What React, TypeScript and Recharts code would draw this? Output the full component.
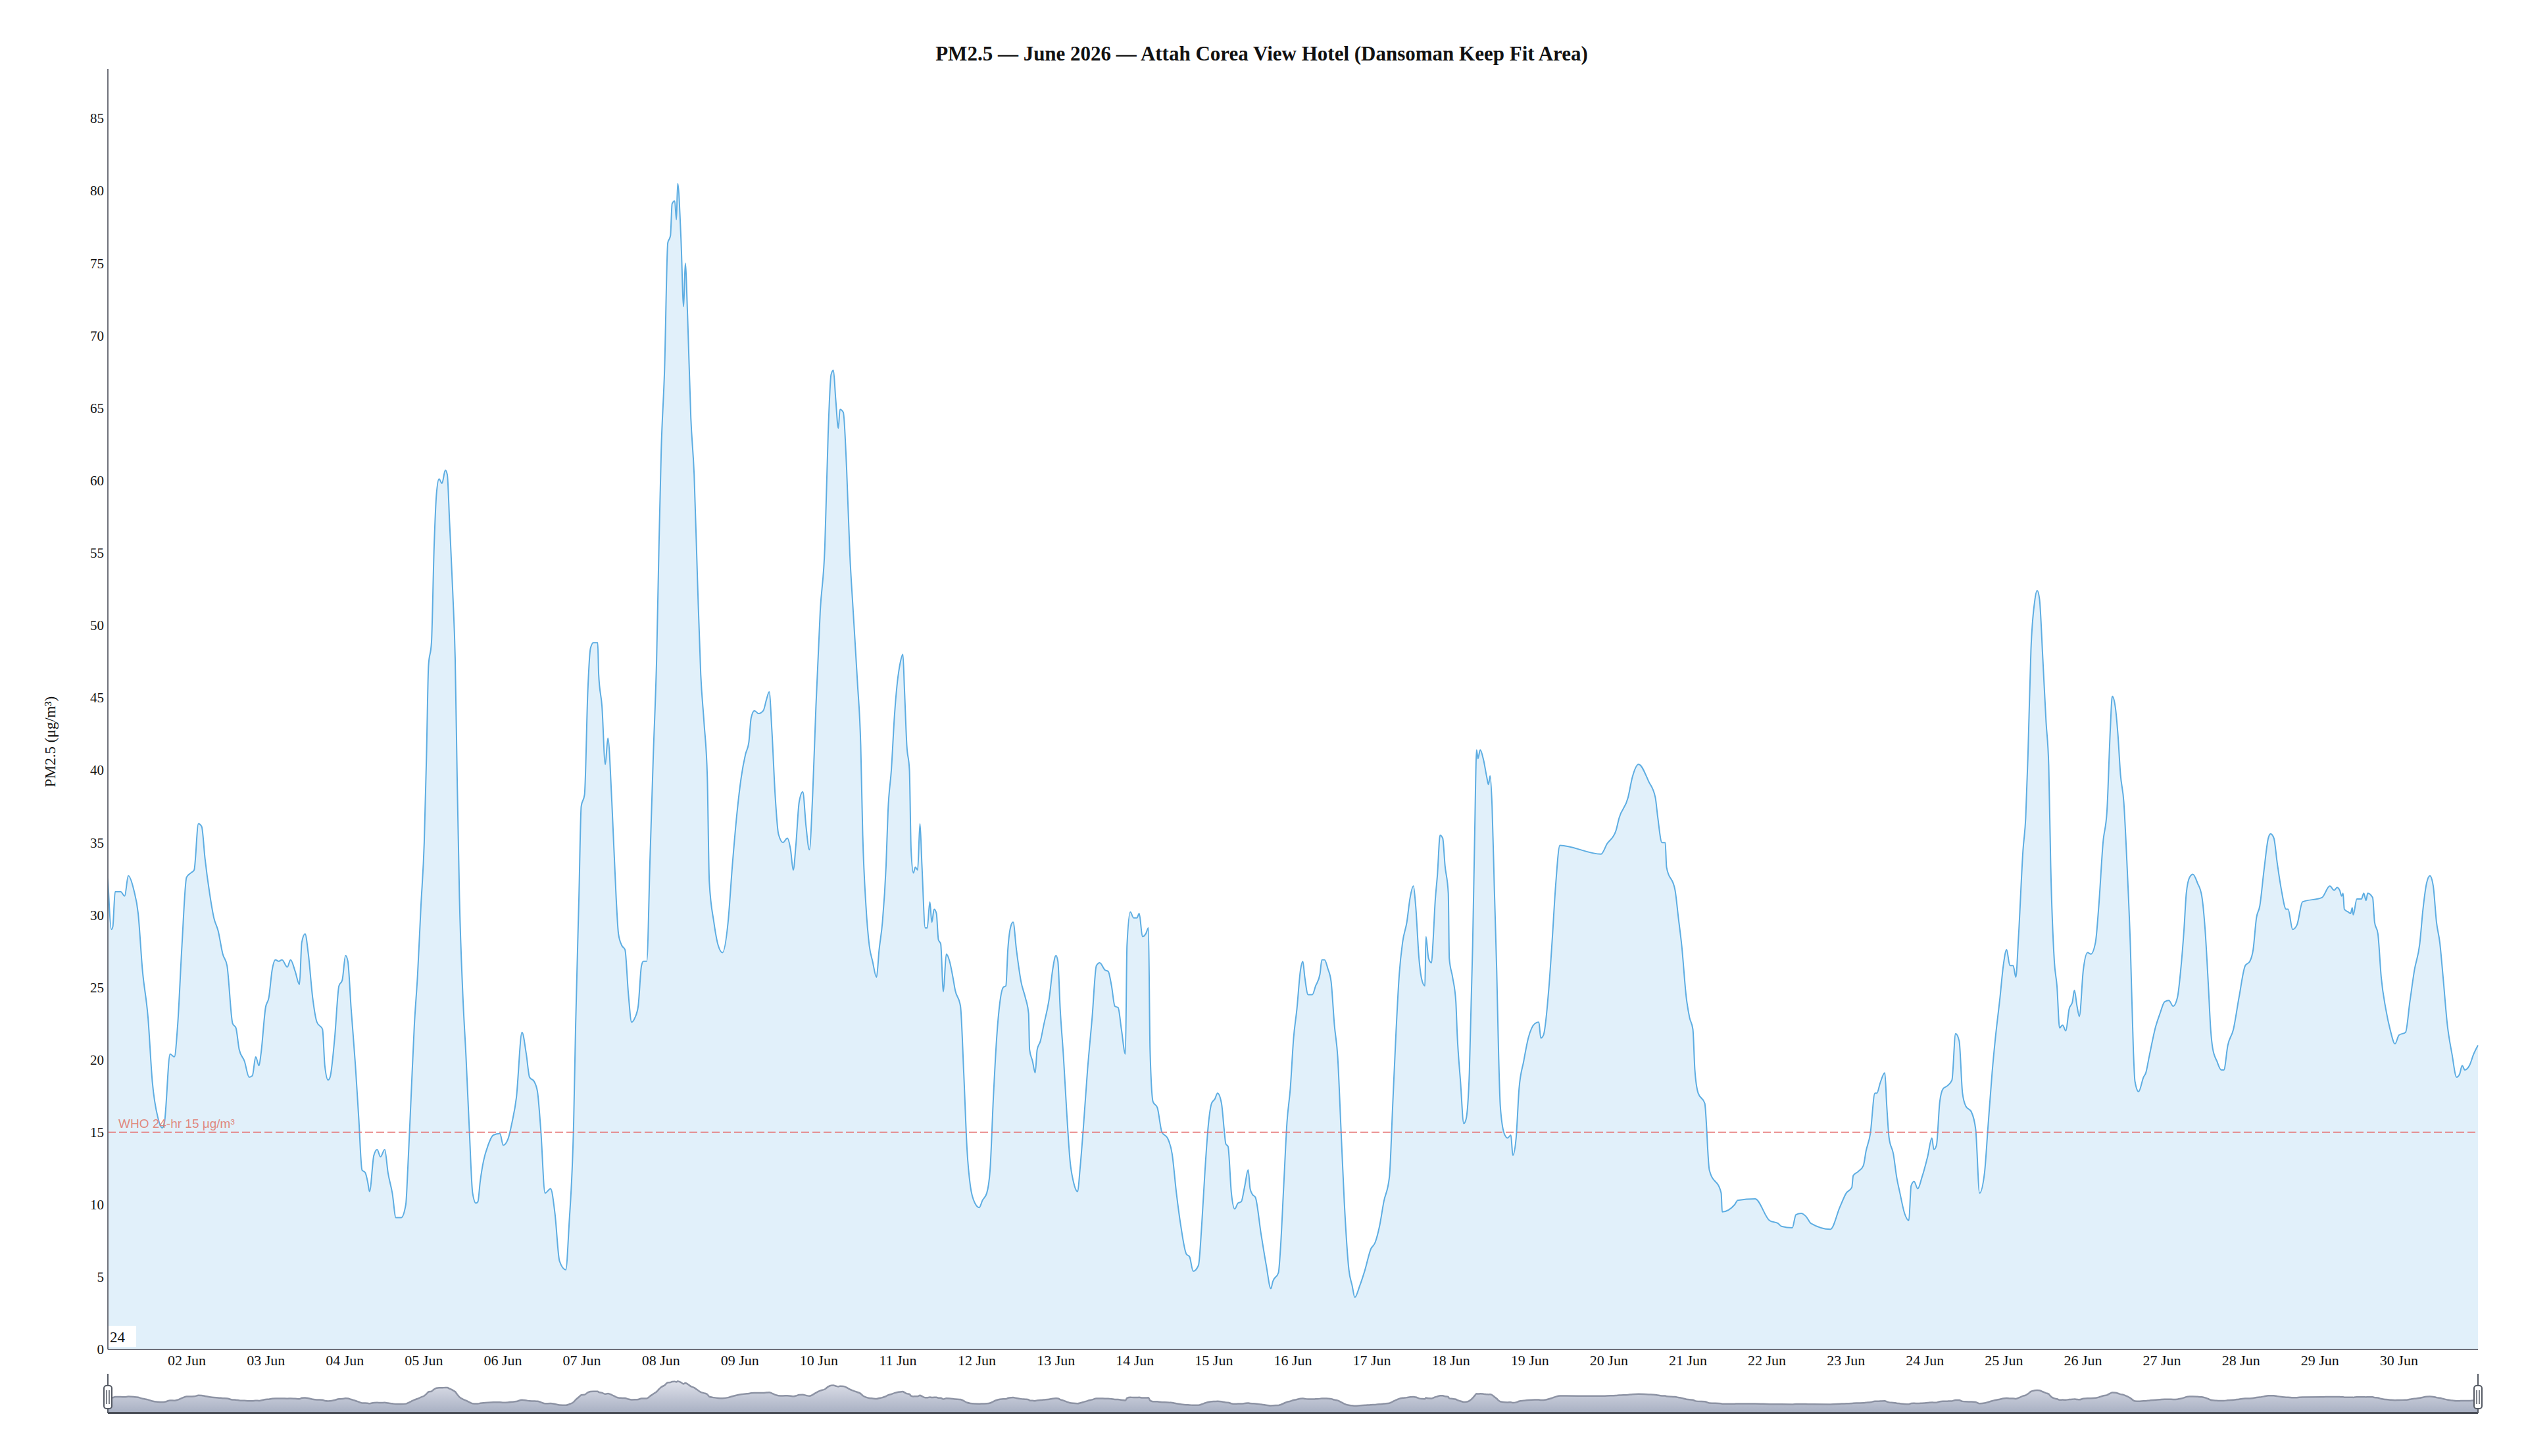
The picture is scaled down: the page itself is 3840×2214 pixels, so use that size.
import React from "react";
import { AreaChart, Area, XAxis, YAxis, ReferenceLine, Label } from "recharts";

// Hours since 01 Jun 2026 00:00
const HOURS = [
  0, 1.1, 1.5, 2.2, 3.9, 5.1, 6.2, 7.9, 9.2, 10.5, 12.2, 13.5, 15.2, 16.5, 17.2, 18.9, 20.2, 21.2, 22.5, 23.9,
  25.2, 26.2, 27.5, 28.5, 29.5, 30.9, 32.2, 33.5, 34.9, 36.2, 37.9, 38.9, 39.9, 41.5, 42.9, 43.9, 44.9, 45.9, 46.5, 47.9,
  48.9, 49.9, 50.9, 51.9, 52.9, 54.5, 55.5, 56.9, 58.2, 58.9, 59.9, 60.9, 62.2, 63.5, 65.2, 65.9, 66.9, 67.5, 68.9, 70.2,
  71.2, 72.2, 72.9, 73.9, 75.2, 76.2, 77.2, 78.2, 78.9, 79.5, 80.8, 81.8, 82.8, 84.1, 85.1, 86.4, 87.5, 89.1, 90.5, 91.1,
  92.1, 93.1, 94.1, 95.1, 96.1, 96.8, 97.4, 98.3, 99.1, 99.8, 100.6, 101.5, 102.5, 103.1, 103.8, 104.8, 105.5, 106.1, 106.8, 107.8,
  108.8, 109.8, 110.8, 111.8, 112.4, 113.1, 114.1, 115.5, 117.1, 119.1, 120.1, 121.5, 122.8, 124.1, 125.8, 127.1, 128.1, 129.5, 130.5, 131.5,
  132.8, 134.5, 135.8, 137.2, 139.1, 140.1, 141.5, 142.1, 143.1, 143.8, 144.8, 145.8, 146.6, 147.5, 148.8, 149.1, 150.1, 151.1, 151.9, 153.1,
  154.4, 155.1, 156.1, 157.1, 158.1, 159.1, 160.1, 161.1, 162.1, 162.7, 163.7, 164.7, 165.7, 166.7, 167.4, 168.1, 169.1, 170.1, 170.9, 171.4,
  172.2, 172.7, 173.1, 174.1, 174.9, 175.4, 176.1, 177.1, 178.1, 179.1, 180.1, 181.1, 182.1, 182.7, 184.1, 185.4, 186.7, 188.4, 189.7, 191.1,
  192.4, 193.7, 194.7, 195.4, 196.4, 197.7, 199.1, 200.1, 200.9, 201.7, 202.7, 203.7, 205.1, 206.4, 207.4, 208.2, 209.0, 210.0, 211.1, 212.1,
  213.1, 214.1, 215.1, 216.4, 217.8, 218.8, 219.7, 220.4, 221.1, 221.9, 222.4, 223.4, 224.4, 225.4, 226.4, 227.7, 228.7, 229.3, 230.3, 231.3,
  232.3, 233.5, 234.3, 235.3, 236.4, 237.0, 238.0, 239.0, 239.7, 240.7, 241.5, 242.0, 242.7, 243.5, 244.0, 244.7, 245.3, 246.0, 246.7, 247.3,
  248.3, 248.9, 249.7, 250.3, 251.0, 251.7, 252.3, 253.0, 253.8, 254.7, 255.7, 256.7, 257.4, 259.0, 260.0, 261.0, 262.0, 263.4, 264.7, 265.7,
  267.0, 268.0, 269.0, 270.0, 271.0, 272.0, 272.8, 273.4, 274.4, 275.0, 276.0, 277.4, 278.7, 279.7, 280.0, 280.9, 281.7, 282.3, 283.3, 284.3,
  286.0, 287.0, 288.0, 288.6, 289.3, 290.3, 291.3, 292.3, 293.3, 294.6, 295.3, 296.3, 297.6, 299.0, 300.3, 301.3, 302.9, 303.9, 304.9, 305.9,
  306.9, 307.9, 309.1, 309.6, 310.6, 311.6, 312.6, 313.3, 314.3, 315.3, 316.1, 316.6, 317.5, 318.8, 320.2, 321.9, 323.3, 324.6, 325.9, 327.6,
  328.6, 329.7, 331.3, 332.3, 333.3, 334.3, 335.3, 336.3, 337.1, 338.3, 339.1, 339.6, 340.3, 341.3, 342.3, 343.3, 344.3, 345.3, 346.4, 347.0,
  347.7, 348.6, 350.3, 351.9, 353.3, 353.9, 355.6, 356.2, 357.2, 358.2, 359.2, 360.2, 361.2, 362.3, 363.0, 363.6, 364.6, 365.9, 366.9, 368.2,
  368.8, 369.6, 370.6, 371.6, 372.6, 373.6, 374.6, 375.6, 377.0, 378.0, 378.8, 380.3, 381.9, 383.6, 385.0, 386.3, 387.6, 389.3, 390.3, 391.3,
  392.3, 393.3, 394.6, 395.6, 396.6, 397.3, 398.3, 399.3, 400.1, 400.4, 401.2, 402.1, 402.5, 403.2, 403.9, 404.7, 405.5, 406.2, 407.2, 407.5,
  408.5, 409.5, 409.9, 410.9, 411.9, 412.6, 413.6, 414.6, 415.2, 415.8, 416.2, 416.9, 417.9, 418.9, 419.4, 419.9, 420.5, 421.2, 421.9, 422.5,
  423.0, 424.2, 425.2, 426.2, 426.8, 427.8, 428.7, 430.1, 431.5, 433.5, 434.7, 435.3, 436.1, 437.8, 438.8, 439.8, 441.1, 453.6, 455.4, 458.1,
  459.1, 461.8, 463.1, 465.0, 468.1, 470.1, 470.8, 472.1, 473.1, 473.5, 476.1, 477.1, 478.1, 479.5, 480.5, 481.5, 482.1, 483.1, 485.1, 486.5,
  490.1, 490.4, 494.2, 495.1, 500.4, 504.8, 507.4, 508.4, 511.7, 512.8, 514.4, 515.8, 517.4, 523.3, 526.1, 528.1, 529.8, 530.2, 531.8, 533.3,
  534.1, 535.4, 536.8, 537.4, 538.4, 539.8, 540.4, 541.1, 542.4, 543.4, 544.4, 545.8, 547.1, 547.8, 548.7, 549.8, 551.1, 552.8, 554.1, 554.7,
  555.5, 556.5, 557.5, 558.8, 560.2, 561.3, 562.4, 563.4, 564.4, 566.1, 567.4, 568.6, 570.1, 571.1, 572.4, 573.4, 574.8, 575.8, 576.8, 577.8,
  578.8, 579.6, 580.4, 581.8, 582.6, 583.3, 584.2, 585.3, 586.1, 586.8, 587.8, 588.8, 589.6, 590.2, 591.3, 592.1, 592.9, 593.8, 594.8, 595.8,
  596.8, 597.4, 598.2, 598.9, 600.1, 601.4, 602.4, 603.8, 604.8, 606.1, 607.3, 608.3, 608.9, 609.8, 610.6, 611.4, 612.4, 613.4, 614.4, 615.3,
  615.8, 616.9, 618.4, 619.1, 620.1, 622.1, 623.4, 624.8, 626.1, 627.4, 628.7, 629.7, 630.7, 631.4, 632.4, 633.4, 634.8, 636.1, 637.1, 638.1,
  638.8, 639.4, 640.7, 642.0, 642.8, 644.0, 645.7, 647.4, 649.3, 650.7, 651.7, 652.7, 653.7, 655.0, 656.3, 657.0, 658.0, 659.0, 660.3, 661.7,
  662.3, 663.7, 665.0, 666.7, 672.6, 675.0, 676.3, 677.2, 678.0, 678.6, 679.0, 679.4, 680.6, 681.3, 681.8, 682.1, 683.2, 684.6, 685.3, 686.0,
  686.5, 688.0, 688.6, 689.6, 690.6, 692.0, 693.3, 694.8, 696.0, 698.0, 699.3, 700.7, 702.3, 703.3, 704.4, 705.4, 706.4, 707.4, 708.4, 709.4,
  710.7, 712.1, 713.5, 714.4, 715.2, 716.0, 717.4, 718.7, 720.0,
];

// PM2.5 (µg/m³), one per entry of HOURS
const PM25 = [
  32.6, 29.0, 29.2, 31.6, 31.6, 31.3, 32.7, 31.7, 30.1, 26.2, 22.9, 18.5, 16.0, 15.3, 15.7, 20.4, 20.2, 22.4, 27.9, 32.6,
  32.9, 33.1, 36.3, 36.1, 33.9, 31.5, 29.8, 28.9, 27.3, 26.5, 22.5, 22.2, 20.7, 19.9, 18.8, 18.9, 20.2, 19.6, 20.4, 23.6,
  24.3, 26.2, 26.9, 26.8, 26.9, 26.4, 26.9, 26.1, 25.2, 28.1, 28.7, 27.3, 24.3, 22.6, 22.1, 19.6, 18.6, 18.8, 21.5, 25.1,
  25.5, 27.2, 26.8, 23.5, 19.6, 16.0, 12.4, 12.2, 11.6, 10.9, 13.4, 13.8, 13.3, 13.8, 12.2, 10.8, 9.1, 9.1, 10.0, 12.4,
  17.4, 22.4, 25.9, 30.6, 35.0, 41.1, 47.2, 48.8, 55.4, 59.0, 60.1, 59.8, 60.7, 60.4, 57.1, 52.1, 47.7, 39.5, 31.2, 24.6,
  20.2, 15.2, 10.8, 10.1, 10.2, 11.6, 13.0, 14.1, 14.8, 14.9, 14.1, 14.5, 15.7, 17.4, 21.9, 20.4, 18.8, 18.5, 17.8, 15.2,
  10.8, 11.1, 9.4, 6.1, 5.5, 8.6, 15.7, 22.4, 31.2, 37.5, 38.3, 45.5, 48.4, 48.8, 48.8, 46.6, 44.4, 40.4, 42.2, 37.8,
  31.2, 28.7, 27.9, 27.6, 24.6, 22.6, 22.9, 23.7, 26.5, 26.8, 26.8, 33.9, 41.1, 47.7, 55.4, 62.1, 67.6, 76.4, 76.9, 79.1,
  79.3, 78.0, 80.5, 76.7, 72.0, 75.0, 71.4, 64.3, 60.4, 53.2, 46.6, 43.3, 39.5, 32.3, 29.5, 27.9, 27.4, 29.5, 33.4, 37.0,
  39.5, 41.1, 41.9, 43.6, 44.1, 43.9, 44.1, 44.9, 45.4, 42.8, 38.3, 35.6, 35.0, 35.3, 34.5, 33.1, 34.8, 37.8, 38.5, 36.1,
  34.5, 38.3, 44.4, 51.0, 55.4, 63.2, 67.3, 67.6, 65.6, 63.6, 64.9, 64.7, 60.9, 54.9, 51.0, 46.1, 41.7, 35.6, 30.6, 27.9,
  26.8, 25.7, 27.6, 29.5, 33.4, 37.2, 40.0, 43.9, 45.8, 47.4, 48.0, 45.5, 41.7, 40.0, 34.5, 32.9, 33.3, 33.1, 36.3, 33.4,
  29.1, 29.1, 30.9, 29.5, 30.4, 30.1, 28.3, 28.0, 24.7, 27.3, 26.8, 25.7, 24.8, 23.7, 19.1, 13.8, 11.3, 10.1, 9.8, 10.3,
  10.8, 12.4, 17.4, 21.5, 24.0, 25.0, 25.1, 27.6, 29.3, 29.5, 27.6, 25.4, 24.3, 23.2, 20.7, 19.9, 19.1, 20.7, 21.3, 22.4,
  24.3, 26.2, 27.2, 26.8, 23.5, 20.2, 16.3, 13.0, 11.6, 10.9, 12.4, 15.2, 19.3, 22.9, 26.5, 26.7, 26.2, 26.1, 25.1, 23.7,
  23.6, 22.1, 20.4, 27.9, 30.2, 29.8, 29.8, 30.1, 28.5, 28.7, 29.1, 20.7, 17.1, 16.7, 15.0, 14.6, 13.5, 10.8, 8.6, 6.6,
  6.4, 5.4, 5.8, 8.6, 12.4, 15.5, 17.0, 17.3, 17.7, 17.0, 15.2, 14.2, 14.0, 10.8, 9.7, 10.1, 10.2, 11.2, 12.4, 11.1,
  10.7, 10.5, 8.0, 5.8, 4.2, 4.7, 5.3, 6.9, 11.3, 15.7, 18.0, 21.5, 23.5, 26.2, 26.8, 25.7, 24.5, 24.5, 25.1, 25.9,
  26.9, 26.9, 26.3, 25.4, 22.4, 20.2, 15.2, 10.2, 5.5, 4.4, 3.6, 4.4, 5.5, 6.9, 7.4, 8.5, 10.2, 11.9, 16.8, 21.8,
  25.9, 28.1, 29.5, 31.2, 32.0, 30.6, 27.0, 25.4, 25.1, 28.5, 27.0, 26.7, 27.9, 30.9, 32.8, 35.5, 35.3, 33.4, 31.5, 27.0,
  25.7, 24.0, 21.8, 18.5, 15.6, 15.9, 19.1, 27.9, 35.3, 41.4, 40.8, 41.4, 40.7, 39.5, 39.0, 39.6, 37.5, 31.7, 26.2, 20.2,
  16.8, 14.9, 14.6, 14.8, 13.4, 14.6, 18.0, 19.9, 21.5, 22.5, 22.6, 21.5, 21.7, 25.1, 28.4, 32.0, 34.8, 34.2, 34.9, 35.8,
  36.7, 38.1, 39.5, 40.4, 39.2, 38.1, 36.8, 35.0, 35.0, 33.3, 31.7, 29.8, 27.9, 24.3, 22.9, 22.1, 19.3, 17.7, 17.0, 12.4,
  10.8, 9.5, 10.0, 10.3, 10.4, 8.9, 8.7, 8.5, 8.4, 9.3, 9.4, 9.2, 8.7, 8.3, 9.8, 10.8, 11.2, 12.0, 12.3, 12.7,
  13.7, 14.9, 17.7, 17.7, 18.4, 19.1, 16.8, 14.6, 13.5, 11.9, 10.8, 9.4, 8.9, 11.3, 11.6, 11.1, 11.9, 13.3, 14.6, 13.8,
  14.1, 17.1, 18.0, 18.2, 18.6, 21.8, 21.3, 17.7, 16.8, 16.4, 15.2, 10.8, 12.2, 15.2, 19.1, 21.5, 24.3, 26.5, 27.6, 26.5,
  26.5, 25.7, 28.4, 34.5, 36.7, 41.1, 48.3, 51.6, 52.4, 51.8, 47.7, 43.3, 40.3, 33.4, 26.8, 25.1, 22.2, 22.4, 22.0, 23.5,
  24.0, 24.8, 23.7, 23.0, 26.2, 27.4, 27.3, 28.1, 30.6, 35.0, 37.2, 42.8, 45.1, 44.4, 42.5, 39.7, 37.8, 33.4, 27.9, 20.7,
  18.5, 17.8, 18.8, 19.1, 20.2, 22.3, 23.2, 24.0, 24.1, 23.7, 24.3, 26.2, 29.0, 31.5, 32.6, 32.8, 32.2, 31.3, 29.0, 25.1,
  22.1, 20.8, 19.9, 19.3, 19.3, 21.0, 22.1, 24.3, 26.5, 26.8, 27.6, 29.8, 30.6, 33.1, 35.3, 35.6, 35.3, 33.6, 31.7, 30.4,
  30.4, 29.0, 29.3, 30.9, 31.2, 32.0, 31.7, 31.9, 31.7, 31.3, 31.5, 30.4, 30.2, 30.1, 30.5, 30.0, 31.1, 31.1, 31.5, 31.0,
  31.5, 31.2, 29.5, 28.7, 25.7, 23.5, 22.1, 21.1, 21.7, 21.9, 24.0, 26.2, 28.0, 30.4, 32.2, 32.7, 32.0, 29.5, 28.1, 25.7,
  22.4, 20.4, 18.8, 19.0, 19.6, 19.3, 19.6, 20.4, 21.0,
];

const DAY_TICKS = [24, 48, 72, 96, 120, 144, 168, 192, 216, 240, 264, 288, 312, 336, 360, 384, 408, 432, 456, 480, 504, 528, 552, 576, 600, 624, 648, 672, 696];
const DAY_LABELS = [
  "02 Jun", "03 Jun", "04 Jun", "05 Jun", "06 Jun", "07 Jun", "08 Jun", "09 Jun", "10 Jun", "11 Jun",
  "12 Jun", "13 Jun", "14 Jun", "15 Jun", "16 Jun", "17 Jun", "18 Jun", "19 Jun", "20 Jun", "21 Jun",
  "22 Jun", "23 Jun", "24 Jun", "25 Jun", "26 Jun", "27 Jun", "28 Jun", "29 Jun", "30 Jun",
];
const Y_TICKS = [0, 5, 10, 15, 20, 25, 30, 35, 40, 45, 50, 55, 60, 65, 70, 75, 80, 85];

const TITLE = "PM2.5 — June 2026 — Attah Corea View Hotel (Dansoman Keep Fit Area)";
const Y_NAME = "PM2.5 (μg/m³)";
const WHO_LIMIT = 15;
const WHO_TEXT = "WHO 24-hr 15 μg/m³";

const data = HOURS.map((h, i) => ({ h, v: PM25[i] }));

const SERIF = "'Liberation Serif', 'Times New Roman', serif";
const SANS = "'Liberation Sans', Arial, sans-serif";

const minV = Math.min(...PM25);
const maxV = Math.max(...PM25);
const pad = (maxV - minV) * 0.3;
const SHADOW_DOMAIN = [minV - pad, maxV + pad];

const WhoLabel = (props: any) => {
  const vb = props.viewBox || {};
  return (
    <text x={(vb.x || 0) + 16} y={(vb.y || 0) - 7} fontFamily={SANS} fontSize={19} fill="#e07a6e" fillOpacity={0.9}>
      {WHO_TEXT}
    </text>
  );
};

const YName = () => (
  <text
    transform="translate(84,1128) rotate(-90)"
    textAnchor="middle"
    fontFamily={SERIF}
    fontSize={23}
    fill="#111"
  >
    {Y_NAME}
  </text>
);

const Handle = ({ cx }: { cx: number }) => (
  <g>
    <line x1={cx} y1={2089} x2={cx} y2={2149} stroke="#555a64" strokeWidth={2} />
    <rect x={cx - 6} y={2107} width={12} height={35} rx={4} ry={4} fill="#fff" stroke="#555a64" strokeWidth={2} />
    <line x1={cx - 2} y1={2114} x2={cx - 2} y2={2135} stroke="#555a64" strokeWidth={1.5} />
    <line x1={cx + 2} y1={2114} x2={cx + 2} y2={2135} stroke="#555a64" strokeWidth={1.5} />
  </g>
);

export default function App() {
  return (
    <div style={{ position: "absolute", left: 0, top: 0, width: 3840, height: 2214, background: "#fff" }}>
      <div style={{ position: "absolute", left: 0, top: 0 }}>
        <AreaChart width={3840} height={2214} data={data} margin={{ top: 105, right: 73, bottom: 0, left: 0 }}>
          <XAxis
            dataKey="h"
            type="number"
            domain={[0, 720]}
            ticks={DAY_TICKS}
            interval={0}
            height={162}
            tickFormatter={(t: number) => DAY_LABELS[DAY_TICKS.indexOf(t)] ?? ""}
            axisLine={{ stroke: "#6E7079", strokeWidth: 2 }}
            tickLine={false}
            tickSize={6}
            tickMargin={2}
            tick={{ fontFamily: SERIF, fontSize: 22, fill: "#111" }}
          />
          <YAxis
            type="number"
            domain={[0, 88.4]}
            ticks={Y_TICKS}
            interval={0}
            width={164}
            axisLine={{ stroke: "#6E7079", strokeWidth: 2 }}
            tickLine={false}
            tickSize={0}
            tickMargin={6}
            tick={{ fontFamily: SERIF, fontSize: 21, fill: "#111" }}
          >
            <Label content={<YName />} />
          </YAxis>
          <Area
            type="monotone"
            dataKey="v"
            stroke="#5DADE2"
            strokeWidth={2}
            fill="#5DADE2"
            fillOpacity={0.19}
            dot={false}
            activeDot={false}
            isAnimationActive={false}
          />
          <ReferenceLine
            y={WHO_LIMIT}
            stroke="#e57373"
            strokeOpacity={0.85}
            strokeWidth={2}
            strokeDasharray="12 5"
            label={<WhoLabel />}
          />
        </AreaChart>
      </div>

      <div style={{ position: "absolute", left: 164, top: 2089 }}>
        <AreaChart width={3603} height={60} data={data} margin={{ top: 0, right: 0, bottom: 0, left: 0 }}>
          <defs>
            <linearGradient id="shadowFill" x1="0" y1="0" x2="0" y2="1">
              <stop offset="0%" stopColor="#dfe1ea" />
              <stop offset="100%" stopColor="#a7afc2" />
            </linearGradient>
          </defs>
          <XAxis dataKey="h" type="number" domain={[0, 720]} hide />
          <YAxis type="number" domain={SHADOW_DOMAIN} hide />
          <Area
            type="monotone"
            dataKey="v"
            baseValue="dataMin"
            stroke="#8d93a4"
            strokeWidth={2.5}
            fill="url(#shadowFill)"
            fillOpacity={1}
            dot={false}
            activeDot={false}
            isAnimationActive={false}
          />
        </AreaChart>
      </div>

      <svg
        width={3840}
        height={2214}
        style={{ position: "absolute", left: 0, top: 0, pointerEvents: "none" }}
      >
        <text x={1918} y={92} textAnchor="middle" fontFamily={SERIF} fontWeight="bold" fontSize={31} fill="#111">
          {TITLE}
        </text>
        <rect x={165} y={2016} width={42} height={32} fill="#fff" />
        <text x={167} y={2041} fontFamily={SERIF} fontSize={23} fill="#111">24</text>
        <line x1={164} y1={2148.5} x2={3767} y2={2148.5} stroke="#4a4e57" strokeWidth={3} />
        <Handle cx={164} />
        <Handle cx={3767} />
      </svg>
    </div>
  );
}
